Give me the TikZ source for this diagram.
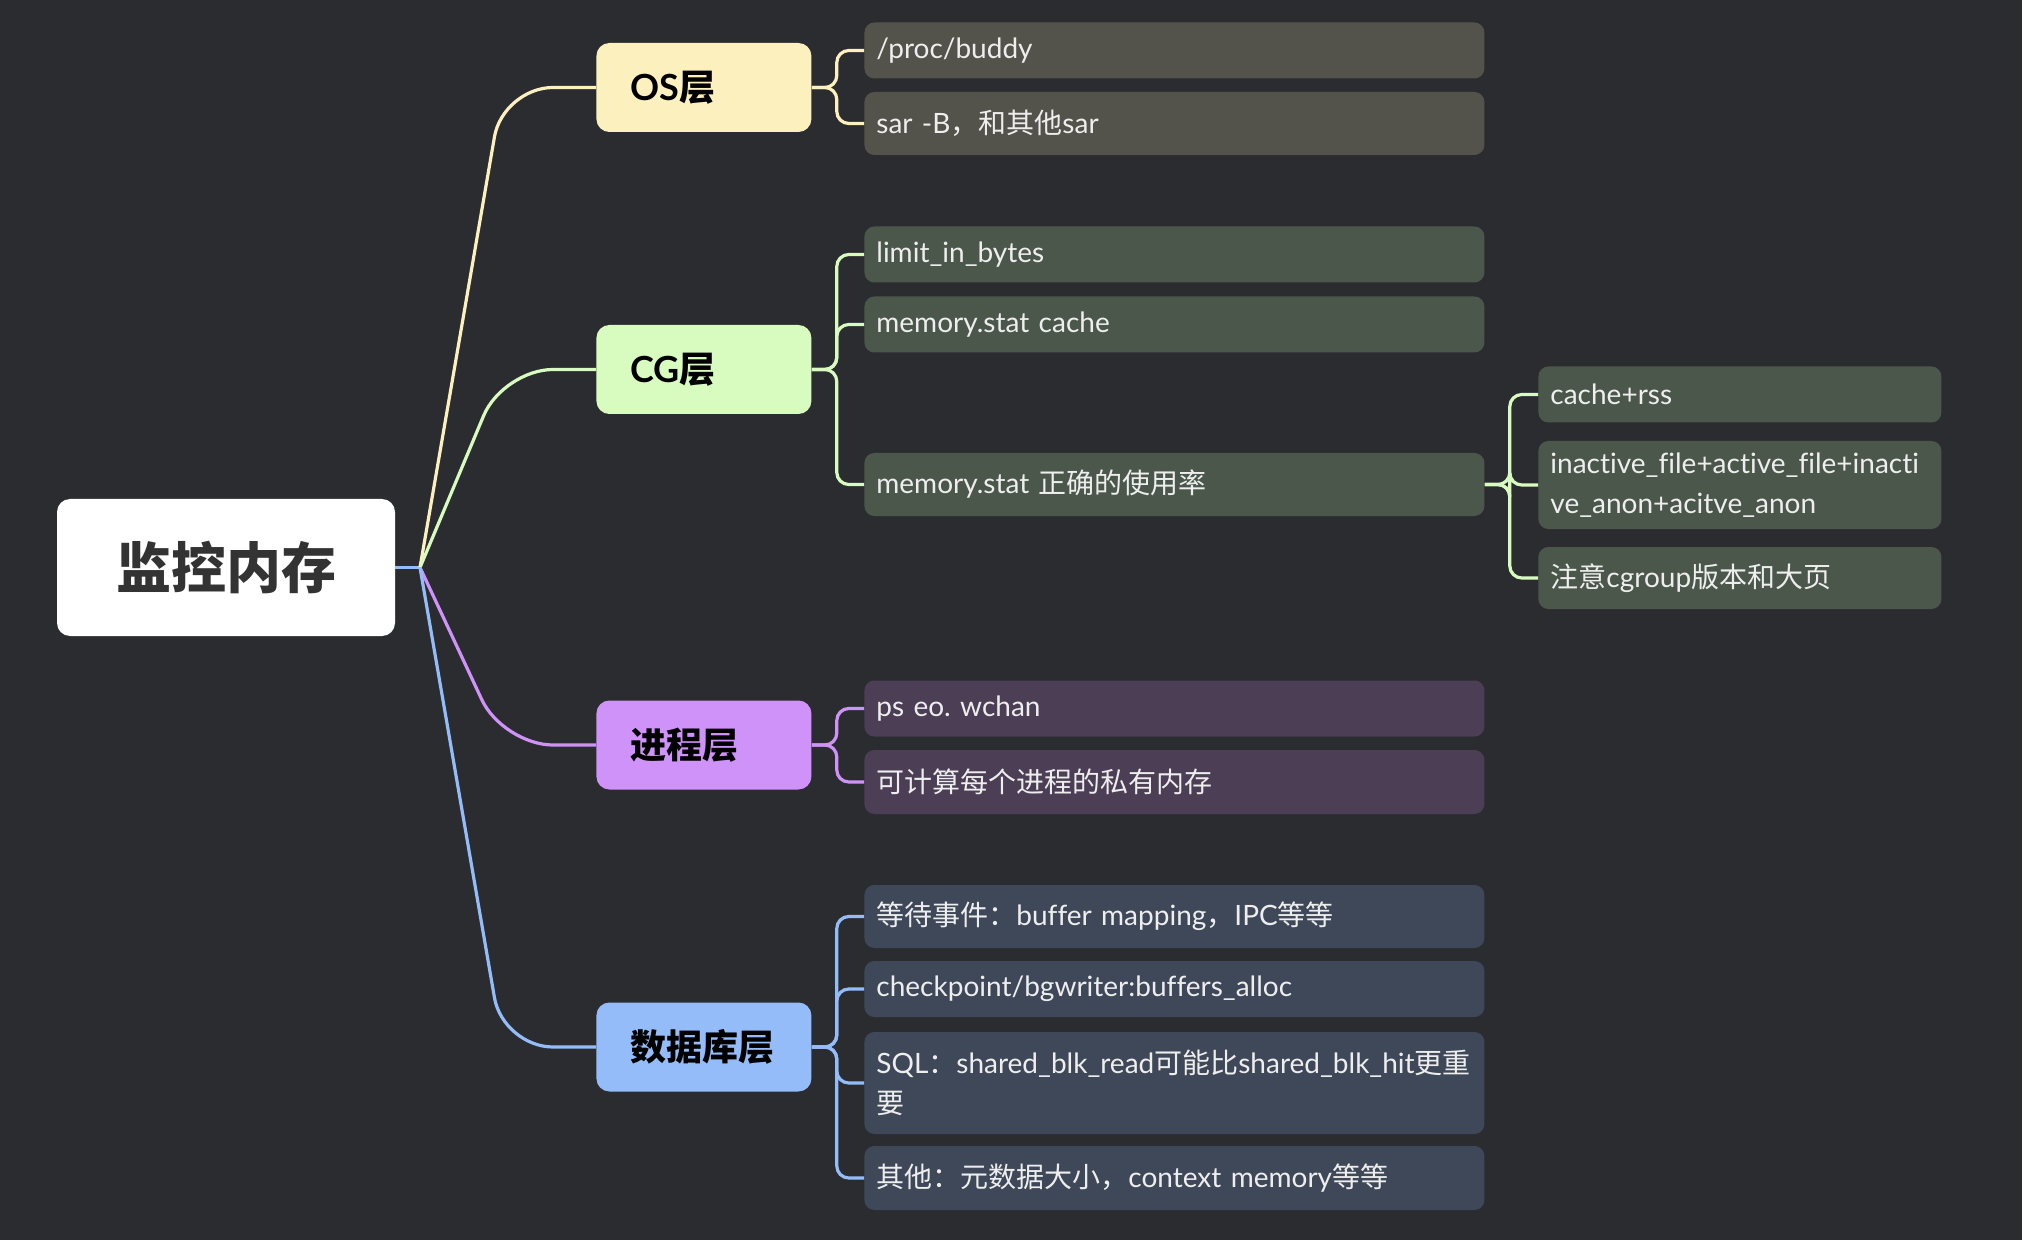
\documentclass[tikz,border=0pt]{standalone}
\usepackage{fontspec}
\setmainfont{Lato}[Ligatures=NoCommon]
\newfontfamily\cjkfont{Noto Sans CJK SC}
\newcommand{\zhtext}[1]{{\cjkfont #1}}
\frenchspacing
\usetikzlibrary{positioning}

\definecolor{bgc}{HTML}{2B2C30}
\definecolor{rootc}{HTML}{333333}
\definecolor{osc}{HTML}{FDF0BF}
\definecolor{cgc}{HTML}{D8FBC0}
\definecolor{prc}{HTML}{CF92F8}
\definecolor{dbc}{HTML}{93BCF8}
\definecolor{osleaf}{HTML}{53534B}
\definecolor{cgleaf}{HTML}{4C574C}
\definecolor{prleaf}{HTML}{4B3E55}
\definecolor{dbleaf}{HTML}{3F4858}
\definecolor{leaftext}{HTML}{EEEEEE}

\begin{document}
\begin{tikzpicture}
[x=0.5pt,y=-0.5pt]
\tikzset{rootbox/.style={rectangle,rounded corners=6.5pt,fill=white,minimum width=169pt,minimum height=68.5pt,font=\bfseries\fontsize{27.5}{33}\selectfont,text=rootc},
branch/.style={rectangle,rounded corners=6.5pt,anchor=west,minimum width=107.5pt,minimum height=44.5pt,inner xsep=17pt,text width=73.5pt,align=left,font=\bfseries\fontsize{18}{22}\selectfont,text=black},
leaf/.style={rectangle,rounded corners=5pt,anchor=west,inner xsep=6pt,text width=298pt,align=left,minimum height=28pt,font=\fontsize{14}{20}\selectfont,text=leaftext},
sub/.style={leaf,text width=189.5pt},
conn/.style={line width=1.6pt,rounded corners=25pt},
brk/.style={line width=1.6pt,rounded corners=6pt}}
\fill[bgc] (0,0) rectangle (2022,1240);
\useasboundingbox (0,0) rectangle (2022,1240);

\node [rootbox] (root) at (226,567.5) {\zhtext{监控内存}};
\coordinate (hub) at (420,567.5);
\coordinate (bend) at (503,0);

\node [branch,fill=osc] (os) at (596,87.5) {OS\zhtext{层}};
\node [branch,fill=cgc] (cg) at (596,369.5) {CG\zhtext{层}};
\node [branch,fill=prc] (pr) at (596,745) {\zhtext{进程层}};
\node [branch,fill=dbc] (db) at (596,1047) {\zhtext{数据库层}};

\node [leaf,fill=osleaf] (os1) at (864,50.5) {/proc/buddy};
\node [leaf,fill=osleaf,minimum height=31.5pt] (os2) at (864,123.5) {sar -B\zhtext{，和其他}sar};

\node [leaf,fill=cgleaf] (cg1) at (864,254.5) {limit\_in\_bytes};
\node [leaf,fill=cgleaf] (cg2) at (864,324.5) {memory.stat cache};
\node [leaf,fill=cgleaf,minimum height=31.5pt] (cg3) at (864,484.5) {memory.stat \zhtext{正确的使用率}};
\node [sub,fill=cgleaf] (cg31) at (1538,394.5) {cache+rss};
\node [sub,fill=cgleaf,minimum height=44pt] (cg32) at (1538,485) {inactive\_file+active\_file+inacti\\ve\_anon+acitve\_anon};
\node [sub,fill=cgleaf,minimum height=31pt] (cg33) at (1538,578) {\zhtext{注意}cgroup\zhtext{版本和大页}};

\node [leaf,fill=prleaf] (pr1) at (864,708.5) {ps eo. wchan};
\node [leaf,fill=prleaf,minimum height=32pt] (pr2) at (864,782) {\zhtext{可计算每个进程的私有内存}};

\node [leaf,fill=dbleaf,minimum height=31.5pt] (db1) at (864,916.5) {\zhtext{等待事件：}buffer mapping\zhtext{，}IPC\zhtext{等等}};
\node [leaf,fill=dbleaf] (db2) at (864,989) {checkpoint/bgwriter:buffers\_alloc};
\node [leaf,fill=dbleaf,minimum height=51pt] (db3) at (864,1083) {SQL\zhtext{：}shared\_blk\_read\zhtext{可能比}shared\_blk\_hit\zhtext{更重}\\\zhtext{要}};
\node [leaf,fill=dbleaf,minimum height=32pt] (db4) at (864,1178) {\zhtext{其他：元数据大小，}context memory\zhtext{等等}};

\draw [dbc,line width=1.6pt] (root.east) -- (hub);
\draw [conn,osc] (hub) -- (bend |- os.west) -- (os.west);
\draw [conn,cgc] (hub) -- (bend |- cg.west) -- (cg.west);
\draw [conn,prc] (hub) -- (bend |- pr.west) -- (pr.west);
\draw [conn,dbc] (hub) -- (bend |- db.west) -- (db.west);

\foreach \from/\to in {os/os1,os/os2}
	\draw [brk,osc] (\from.east) -- ++(25,0) |- (\to.west);
\foreach \from/\to in {cg/cg1,cg/cg2,cg/cg3,cg3/cg31,cg3/cg32,cg3/cg33}
	\draw [brk,cgc] (\from.east) -- ++(25,0) |- (\to.west);
\foreach \from/\to in {pr/pr1,pr/pr2}
	\draw [brk,prc] (\from.east) -- ++(25,0) |- (\to.west);
\foreach \from/\to in {db/db1,db/db2,db/db3,db/db4}
	\draw [brk,dbc] (\from.east) -- ++(25,0) |- (\to.west);

\end{tikzpicture}
\end{document}
